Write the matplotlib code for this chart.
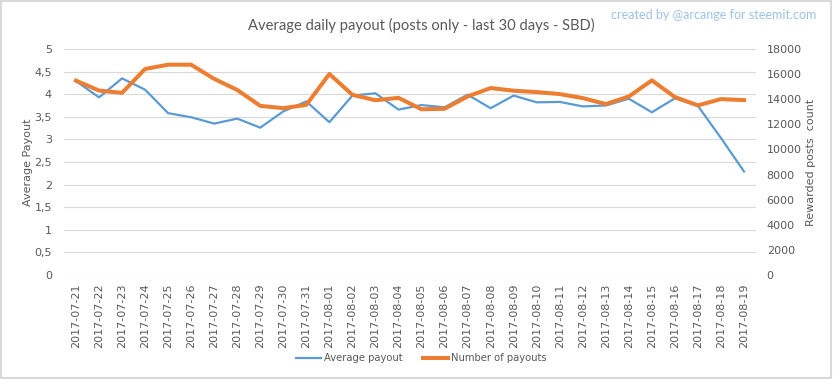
import numpy as np
import matplotlib.pyplot as plt
from matplotlib.ticker import FuncFormatter
from matplotlib.patches import Rectangle

# data
dates = ['2017-07-21', '2017-07-22', '2017-07-23', '2017-07-24', '2017-07-25',
         '2017-07-26', '2017-07-27', '2017-07-28', '2017-07-29', '2017-07-30',
         '2017-07-31', '2017-08-01', '2017-08-02', '2017-08-03', '2017-08-04',
         '2017-08-05', '2017-08-06', '2017-08-07', '2017-08-08', '2017-08-09',
         '2017-08-10', '2017-08-11', '2017-08-12', '2017-08-13', '2017-08-14',
         '2017-08-15', '2017-08-16', '2017-08-17', '2017-08-18', '2017-08-19']
avg_payout = [4.29, 3.93, 4.35, 4.10, 3.58, 3.49, 3.35, 3.46, 3.26, 3.62,
              3.84, 3.38, 3.97, 4.02, 3.66, 3.76, 3.71, 3.99, 3.69, 3.97,
              3.82, 3.83, 3.73, 3.75, 3.90, 3.60, 3.91, 3.74, 3.03, 2.29]
num_payouts = [15480, 14690, 14510, 16410, 16750, 16750, 15620, 14740, 13470, 13290,
               13550, 16010, 14350, 13920, 14110, 13200, 13240, 14220, 14890, 14680,
               14570, 14410, 14090, 13610, 14220, 15500, 14170, 13510, 14010, 13930]

blue = '#5B9BD5'
orange = '#ED7D31'
grey = '#595959'
grid_c = '#D9D9D9'

fig = plt.figure(figsize=(8.33, 3.79), dpi=100)
ax = fig.add_axes([0.0774, 0.2744, 0.8296, 0.5963])
ax2 = ax.twinx()

x = np.arange(len(dates))
l1, = ax.plot(x, avg_payout, color=blue, lw=1.6, label='Average payout', zorder=3)
l2, = ax2.plot(x, num_payouts, color=orange, lw=2.9, label='Number of payouts', zorder=3)

ax.set_xlim(-0.5, len(dates) - 0.5)
ax.set_ylim(0, 5)
ax.set_yticks(np.arange(0, 5.01, 0.5))
ax.yaxis.set_major_formatter(FuncFormatter(lambda v, p: ('%g' % v).replace('.', ',')))
ax2.set_ylim(0, 18000)
ax2.set_yticks(np.arange(0, 18001, 2000))

ax.set_xticks(x)
ax.set_xticklabels(dates, rotation=90, fontsize=7, color=grey, family='DejaVu Sans')
ax.yaxis.grid(True, color=grid_c, lw=0.8)
ax.set_axisbelow(True)
for a in (ax, ax2):
    for s in a.spines.values():
        s.set_visible(False)
    a.tick_params(length=0, colors=grey, labelsize=8)
ax.tick_params(axis='y', pad=9)
ax.tick_params(axis='x', pad=6)
ax2.tick_params(axis='y', pad=8)

ax.set_ylabel('Average Payout', fontsize=8, color=grey, family='DejaVu Sans', labelpad=1)
ax2.set_ylabel('Rewarded posts  count', fontsize=8, color=grey, family='DejaVu Sans', labelpad=3)

fig.text(0.5055, 0.934, 'Average daily payout (posts only - last 30 days - SBD)',
         ha='center', va='center', fontsize=10.6, color=grey, family='Lato')
fig.text(0.98, 0.96, 'created by @arcange for steemit.com', ha='right', va='center',
         fontsize=9, color='#9DC3E6', family='Lato')

fig.legend(handles=[l1, l2], loc='center', bbox_to_anchor=(0.506, 0.055), ncol=2,
           frameon=False, fontsize=7.2, handlelength=2.5, columnspacing=2,
           handletextpad=0.3, labelcolor=grey)

fig.patches.append(Rectangle((0.001, 0.002), 0.997, 0.996, transform=fig.transFigure,
                             fill=False, edgecolor=grid_c, lw=1.5))

fig.savefig('out.png', dpi=100, facecolor='white')
